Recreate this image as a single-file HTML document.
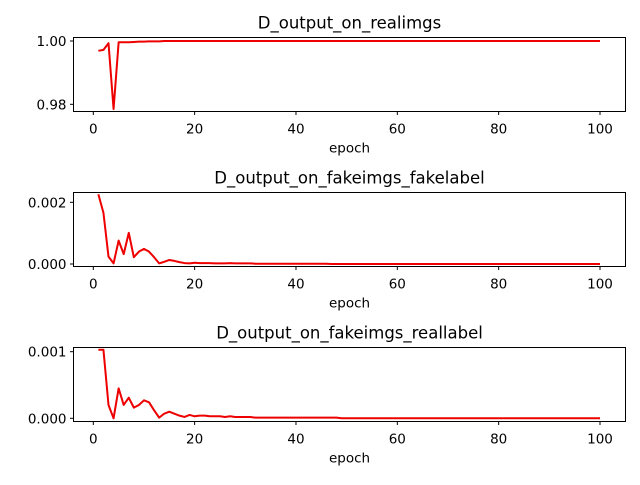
<!DOCTYPE html>
<html><head><meta charset="utf-8"><style>
body{margin:0;background:#fff;}
svg text{font-family:"DejaVu Sans","Liberation Sans",sans-serif;fill:#000;}
</style></head><body>
<svg id="c" width="640" height="480"></svg>
<script>
const epochs = Array.from({length:100},(_, i)=>i+1);
const realVals = [0.9969,0.9972,0.9993,0.9785,0.9996,0.9996,0.9996,0.9997,0.9998,0.9998,0.9999,0.9999,0.9999,1,1,1,1,1,1,1,
1,1,1,1,1,1,1,1,1,1,1,1,1,1,1,1,1,1,1,1,1,1,1,1,1,1,1,1,1,1,1,1,1,1,1,1,1,1,1,1,1,1,1,1,1,1,1,1,1,1,1,1,1,1,1,1,1,1,1,1,1,1,1,1,1,1,1,1,1,1,1,1,1,1,1,1,1,1,1,1];
const fakeFakeVals = [0.00226,0.00166,0.00024,0.00002,0.00076,0.00032,0.00101,0.00022,0.0004,0.00049,0.0004,0.00022,0.00002,0.00007,0.00013,0.0001,0.00006,0.00003,0.00002,0.00004,
0.00003,0.00003,0.00003,0.00002,0.00002,0.00002,0.00003,0.00002,0.00002,0.00002,0.00002,0.00001,0.00001,0.00001,0.00001,0.00001,0.00001,0.00001,0.00001,0.00001,
0.00001,0.00001,0.00001,0.00001,0.00001,0.00001,0,0,0,0,0,0,0,0,0,0,0,0,0,0,0,0,0,0,0,0,0,0,0,0,0,0,0,0,0,0,0,0,0,0,0,0,0,0,0,0,0,0,0,0,0,0,0,0,0,0,0,0,0,0];
const fakeRealVals = [0.00103,0.00103,0.0002,0.0,0.00045,0.0002,0.00031,0.00016,0.0002,0.00027,0.00024,0.00012,0.00001,0.00007,0.0001,0.00007,0.00004,0.00002,0.00005,0.00003,
0.00004,0.00004,0.00003,0.00003,0.00003,0.00002,0.00003,0.00002,0.00002,0.00002,0.00002,0.00001,0.00001,0.00001,0.00001,0.00001,0.00001,0.00001,0.00001,0.00001,
0.00001,0.00001,0.00001,0.00001,0.00001,0.00001,0.00001,0.00001,0,0,0,0,0,0,0,0,0,0,0,0,0,0,0,0,0,0,0,0,0,0,0,0,0,0,0,0,0,0,0,0,0,0,0,0,0,0,0,0,0,0,0,0,0,0,0,0,0,0,0,0];
const xTicks = [0,20,40,60,80,100];
const yTicks1 = [0.98,1.00], yLabels1 = ["0.98","1.00"];
const yTicks2 = [0,0.002], yLabels2 = ["0.000","0.002"];
const yTicks3 = [0,0.001], yLabels3 = ["0.000","0.001"];
const titles = ["D_output_on_realimgs","D_output_on_fakeimgs_fakelabel","D_output_on_fakeimgs_reallabel"];

const NS="http://www.w3.org/2000/svg";
const svg=document.getElementById('c');
function mk(t,a,p){const e=document.createElementNS(NS,t);for(const k in a)e.setAttribute(k,a[k]);(p||svg).appendChild(e);return e;}
const L=73.5,R=625.5;
const xs=v=>93.3+v*5.067;
function panel(idx,top,vals,yt,yl,yref){
  const g=mk('g',{});
  
  
  const bot=top+74;
  const ys=v=>yref.p0+(v-yref.v0)*(yref.p1-yref.p0)/(yref.v1-yref.v0);
  const pts=epochs.map((e,i)=>xs(e).toFixed(2)+','+ys(vals[i]).toFixed(2)).join(' ');
  const ln=mk('polyline',{points:pts,fill:'none',stroke:'#ee0000','stroke-width':2,'stroke-linejoin':'round'},g);
  
  
  const fr=mk('rect',{x:L,y:top,width:R-L,height:74,fill:'none',stroke:'#000','stroke-width':1},g);
  
  
  xTicks.forEach(t=>{const x=xs(t);mk('line',{x1:x,x2:x,y1:bot,y2:bot+3.5,stroke:'#000'},g);
    const tx=mk('text',{x:x,y:bot+22,'text-anchor':'middle','font-size':13.5},g);tx.textContent=t;
    
    });
  yt.forEach((t,i)=>{const y=ys(t);mk('line',{x1:L-3.5,x2:L,y1:y,y2:y,stroke:'#000'},g);
    const tx=mk('text',{x:L-7,y:y+5,'text-anchor':'end','font-size':13.5},g);tx.textContent=yl[i];
    
    });
  const xl=mk('text',{x:(L+R)/2,y:bot+41,'text-anchor':'middle','font-size':13.5},g);xl.textContent='epoch';
  
  
  const ti=mk('text',{x:(L+R)/2,y:top-9,'text-anchor':'middle','font-size':16.5},g);ti.textContent=titles[idx];
  
  
}
panel(0,37.5,realVals,yTicks1,yLabels1,{v0:1.0,p0:41,v1:0.98,p1:104.3});
panel(1,192.5,fakeFakeVals,yTicks2,yLabels2,{v0:0,p0:264,v1:0.002,p1:202.3});
panel(2,347.5,fakeRealVals,yTicks3,yLabels3,{v0:0,p0:418.3,v1:0.001,p1:351.7});
</script>
</body></html>
